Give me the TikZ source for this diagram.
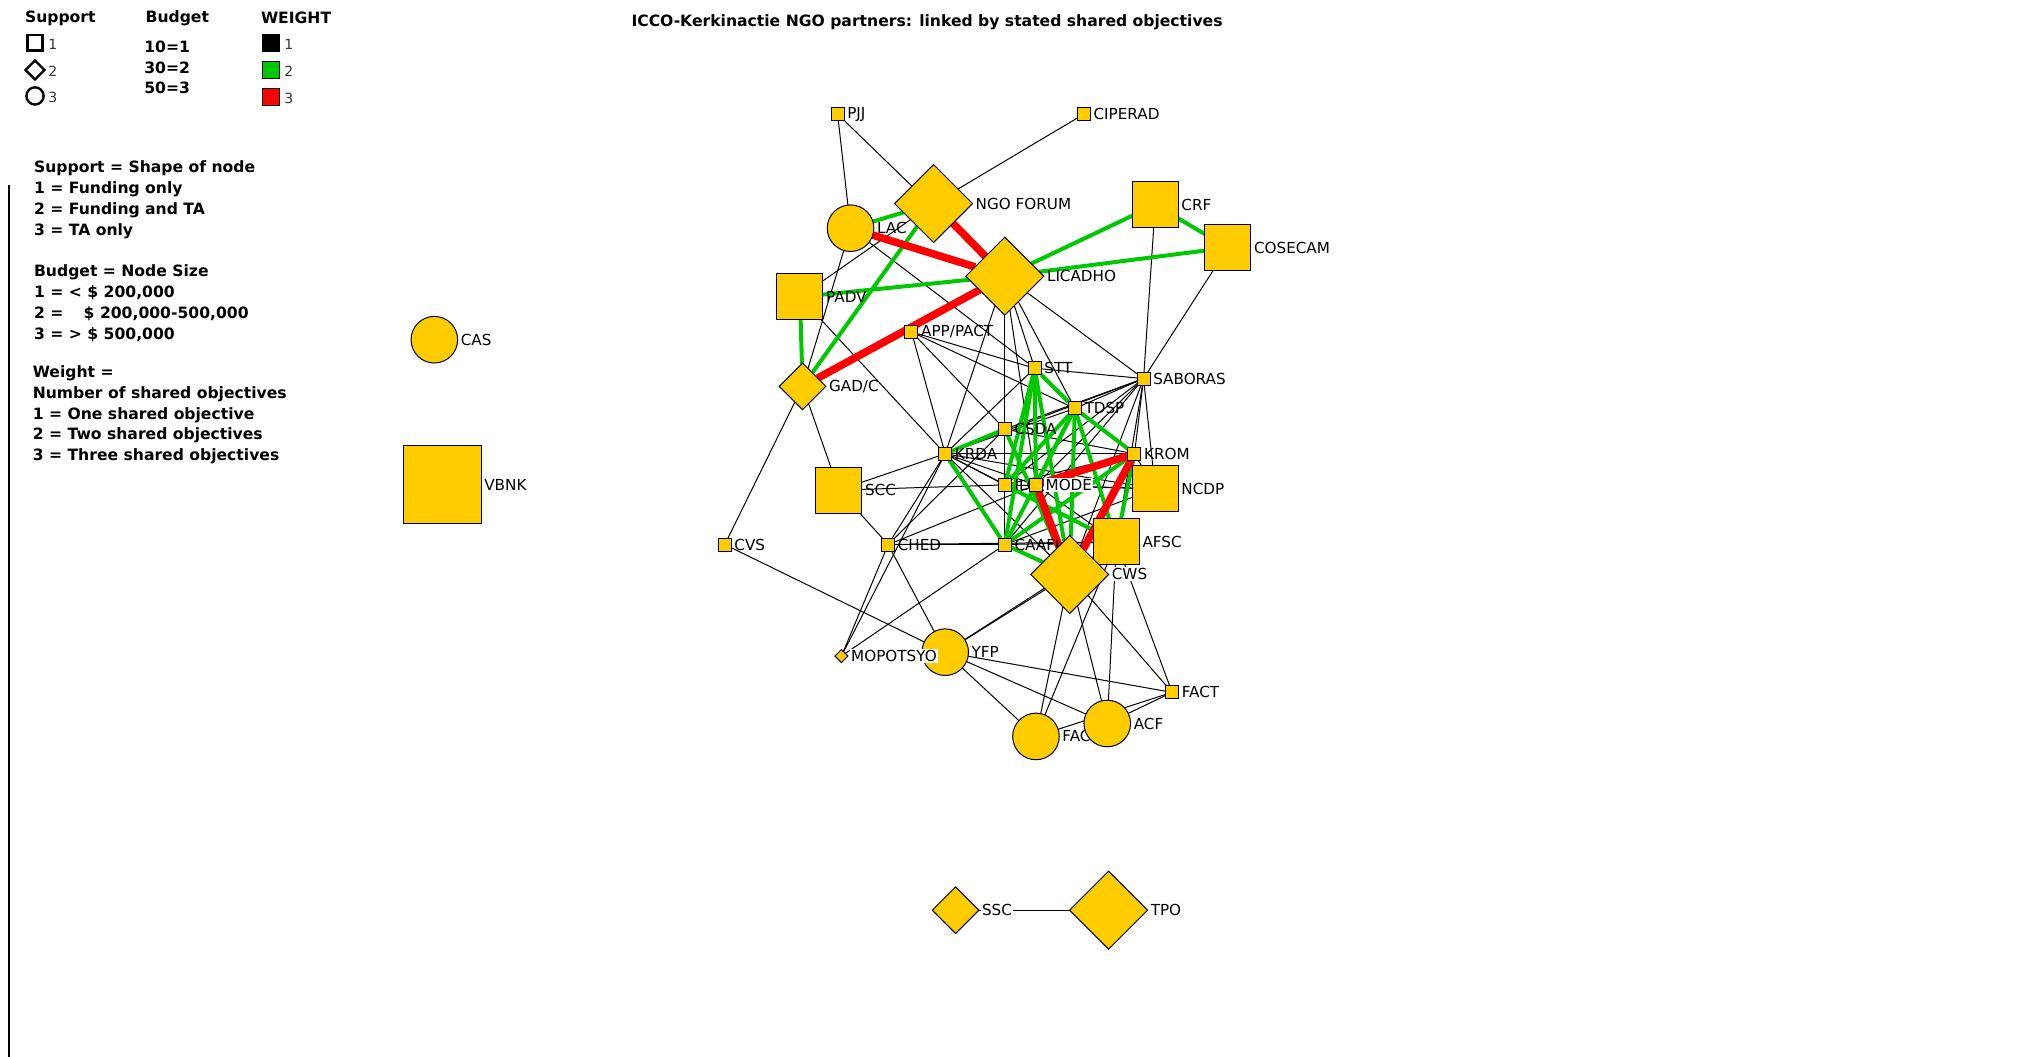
\documentclass[tikz,border=0pt]{standalone}
\usepackage{fontspec}
\setmainfont{DejaVu Sans}
\usetikzlibrary{shapes.geometric}
\pgfdeclarelayer{bg}
\pgfsetlayers{bg,main}
\definecolor{gold}{RGB}{255,204,0}
\definecolor{egreen}{RGB}{0,200,0}
\definecolor{ered}{RGB}{255,0,0}
\begin{document}
\begin{tikzpicture}[x=0.6483pt,y=-0.6483pt,
  nd/.style={draw=black,line width=0.5pt,fill=gold,inner sep=0pt,outer sep=0pt},
  sqs/.style={nd,rectangle,minimum size=6.5pt},
  sqm/.style={nd,rectangle,minimum size=23pt},
  sql/.style={nd,rectangle,minimum size=39pt},
  cir/.style={nd,circle,minimum size=23.3pt},
  dml/.style={nd,diamond,minimum size=39pt},
  dmm/.style={nd,diamond,minimum size=23.3pt},
  dms/.style={nd,diamond,minimum size=6.5pt},
  lab/.style={font=\fontsize{7.6}{9}\selectfont,inner sep=0.6pt,anchor=west,xshift=0.8pt},
  wlab/.style={lab,fill=white},
  e1/.style={draw=black,line width=0.5pt},
  e2/.style={draw=egreen,line width=2pt},
  e3/.style={draw=ered,line width=3.8pt},
  leg/.style={font=\bfseries\fontsize{7.8}{9}\selectfont,anchor=west,inner sep=0pt},
  legn/.style={font=\fontsize{7}{9}\selectfont,anchor=west,inner sep=0pt,text=black!80},
  lsym/.style={draw=black,line width=1.2pt,inner sep=0pt},
  wsym/.style={draw=black,line width=0.6pt,inner sep=0pt,rectangle,minimum size=8.4pt},
]
\useasboundingbox (0,0) rectangle (1568,815);

% ---------- legend ----------
\node[leg] (tSupport) at (19,14) {Support};
\node[leg] (tBudget) at (112,14) {Budget};
\node[leg] (tWeight) at (201,14) {WEIGHT};
\node[lsym,rectangle,minimum size=7.6pt] (ls1) at (27,33) {};
\node[lsym,diamond,minimum size=10pt] (ls2) at (27,54) {};
\node[lsym,circle,minimum size=8.6pt] (ls3) at (27,74) {};
\node[legn] (ln1) at (37,34) {1};
\node[legn] (ln2) at (37,55) {2};
\node[legn] (ln3) at (37,75) {3};
\node[leg] (b1) at (111,36) {10=1};
\node[leg] (b2) at (111,52) {30=2};
\node[leg] (b3) at (111,68) {50=3};
\node[wsym,fill=black] (w1) at (209,33) {};
\node[wsym,fill=egreen] (w2) at (209,54) {};
\node[wsym,fill=ered] (w3) at (209,75) {};
\node[legn] (wn1) at (219,34) {1};
\node[legn] (wn2) at (219,55) {2};
\node[legn] (wn3) at (219,76) {3};

\node[leg] (k1) at (26,130) {Support = Shape of node};
\node[leg] (k2) at (26,146) {1 = Funding only};
\node[leg] (k3) at (26,162) {2 = Funding and TA};
\node[leg] (k4) at (26,178) {3 = TA only};
\node[leg] (k5) at (26,210) {Budget = Node Size};
\node[leg] (k6) at (26,226) {1 = < \$ 200,000};
\node[leg] (k7) at (26,242) {2 =\hspace{1.3em}\$ 200,000-500,000};
\node[leg] (k8) at (26,258) {3 = > \$ 500,000};
\node[leg] (k9) at (25,288) {Weight =};
\node[leg] (k10) at (25,304) {Number of shared objectives};
\node[leg] (k11) at (25,320) {1 = One shared objective};
\node[leg] (k12) at (25,336) {2 = Two shared objectives};
\node[leg] (k13) at (25,352) {3 = Three shared objectives};

\coordinate (vt) at (7,143);
\coordinate (vb) at (7,815);
\draw[line width=0.6pt] (vt) -- (vb);

\node[font=\bfseries\fontsize{7.8}{9}\selectfont,inner sep=0pt] (title) at (715,17)
  {ICCO-Kerkinactie NGO partners: linked by stated shared objectives};

% ---------- nodes ----------
\node[sqs] (PJJ) at (646,88) {};       \node[lab] (lPJJ) at (PJJ.east) {PJJ};
\node[sqs] (CIPERAD) at (836,88) {};   \node[lab] (lCIPERAD) at (CIPERAD.east) {CIPERAD};
\node[cir] (LAC) at (656,176) {};      \node[lab] (lLAC) at (LAC.east) {LAC};
\node[dml] (NGOFORUM) at (720,157) {}; \node[lab] (lNGOFORUM) at (NGOFORUM.east) {NGO FORUM};
\node[sqm] (CRF) at (891,158) {};      \node[lab] (lCRF) at (CRF.east) {CRF};
\node[sqm] (COSECAM) at (947,191) {};  \node[lab] (lCOSECAM) at (COSECAM.east) {COSECAM};
\node[sqm] (PADV) at (617,229) {};     \node[lab] (lPADV) at (PADV.east) {PADV};
\node[dml] (LICADHO) at (775,213) {};  \node[lab] (lLICADHO) at (LICADHO.east) {LICADHO};
\node[cir] (CAS) at (335,262) {};      \node[lab] (lCAS) at (CAS.east) {CAS};
\node[sqs] (APPPACT) at (703,256) {};  \node[lab] (lAPPPACT) at (APPPACT.east) {APP/PACT};
\node[sqs] (STT) at (798,284) {};      \node[lab] (lSTT) at (STT.east) {STT};
\node[sqs] (SABORAS) at (882,292) {};  \node[lab] (lSABORAS) at (SABORAS.east) {SABORAS};
\node[dmm] (GADC) at (619,298) {};     \node[lab] (lGADC) at (GADC.east) {GAD/C};
\node[sqs] (TDSP) at (829,315) {};     \node[lab] (lTDSP) at (TDSP.east) {TDSP};
\node[sqs] (CSDA) at (775,331) {};     \node[lab] (lCSDA) at (CSDA.east) {CSDA};
\node[sqs] (KRDA) at (729,350) {};     \node[lab] (lKRDA) at (KRDA.east) {KRDA};
\node[sqs] (KROM) at (875,350) {};     \node[lab] (lKROM) at (KROM.east) {KROM};
\node[sql] (VBNK) at (341,374) {};     \node[lab] (lVBNK) at (VBNK.east) {VBNK};
\node[sqm] (SCC) at (647,378) {};      \node[lab] (lSCC) at (SCC.east) {SCC};
\node[sqs] (ILO) at (775,374) {};      \node[lab] (lILO) at (ILO.east) {ILO};
\node[sqs] (MODE) at (799,374) {};     \node[wlab] (lMODE) at (MODE.east) {MODE};
\node[sqm] (NCDP) at (891,377) {};     \node[lab] (lNCDP) at (NCDP.east) {NCDP};
\node[sqs] (CVS) at (559,420) {};      \node[lab] (lCVS) at (CVS.east) {CVS};
\node[sqs] (CHED) at (685,420) {};     \node[lab] (lCHED) at (CHED.east) {CHED};
\node[sqs] (CAAF) at (775,420) {};     \node[lab] (lCAAF) at (CAAF.east) {CAAFI};
\node[sqm] (AFSC) at (861,418) {};     \node[lab] (lAFSC) at (AFSC.east) {AFSC};
\node[dml] (CWS) at (825,443) {};      \node[wlab] (lCWS) at (CWS.east) {CWS};
\node[cir] (YFP) at (729,503) {};      \node[lab] (lYFP) at (YFP.east) {YFP};
\node[dms] (MOPOTSYO) at (649,506) {}; \node[wlab] (lMOPOTSYO) at (MOPOTSYO.east) {MOPOTSYO};
\node[sqs] (FACT) at (904,534) {};     \node[lab] (lFACT) at (FACT.east) {FACT};
\node[cir] (FAC) at (799,568) {};      \node[lab] (lFAC) at (FAC.east) {FAC};
\node[cir] (ACF) at (854,558) {};      \node[lab] (lACF) at (ACF.east) {ACF};
\node[dmm] (SSC) at (737,702) {};      \node[wlab] (lSSC) at (SSC.east) {SSC};
\node[dml] (TPO) at (855,702) {};      \node[lab] (lTPO) at (TPO.east) {TPO};

% ---------- edges ----------
\begin{pgfonlayer}{bg}
\foreach \a/\b in {PJJ/LAC, PJJ/LICADHO, CIPERAD/NGOFORUM, NGOFORUM/PADV, LAC/GADC, LAC/STT,
  PADV/KRDA, CRF/SABORAS, COSECAM/SABORAS, LICADHO/SABORAS, LICADHO/STT, LICADHO/TDSP,
  LICADHO/MODE, LICADHO/CAAF, LICADHO/KRDA, LICADHO/CSDA, APPPACT/KRDA, APPPACT/CSDA,
  APPPACT/STT, APPPACT/TDSP, GADC/CVS, GADC/SCC, SCC/KRDA, SCC/ILO, SCC/CHED, CHED/CAAF,
  CHED/KRDA, CHED/CSDA, CHED/MOPOTSYO, CHED/YFP, CHED/MODE, KRDA/MOPOTSYO, CVS/YFP,
  MOPOTSYO/CAAF, KRDA/STT, KRDA/TDSP, KRDA/KROM, KRDA/NCDP, KRDA/ILO, KRDA/MODE, KRDA/AFSC,
  KRDA/CWS, KRDA/SABORAS, STT/SABORAS, SABORAS/CSDA, SABORAS/ILO, SABORAS/MODE, SABORAS/CAAF,
  SABORAS/KROM, SABORAS/NCDP, SABORAS/AFSC, SABORAS/CWS, SABORAS/TDSP, KROM/ILO, KROM/CSDA,
  KROM/NCDP, KROM/CAAF, NCDP/ILO, NCDP/MODE, NCDP/CAAF, ILO/CAAF, CSDA/ILO, MODE/AFSC,
  CAAF/AFSC, CHED/AFSC, YFP/CWS, YFP/AFSC, YFP/FACT, YFP/ACF, YFP/FAC, CWS/FAC, AFSC/FAC,
  CWS/ACF, AFSC/ACF, CWS/FACT, AFSC/FACT, ACF/FACT, FAC/FACT, SSC/TPO}
  \draw[e1] (\a) -- (\b);
\foreach \a/\b in {LAC/NGOFORUM, NGOFORUM/GADC, PADV/LICADHO, PADV/GADC, LICADHO/CRF,
  LICADHO/COSECAM, CRF/COSECAM, STT/TDSP, STT/CAAF, STT/MODE, STT/CWS, STT/ILO, TDSP/KROM,
  TDSP/CAAF, TDSP/ILO, TDSP/AFSC, TDSP/CWS, TDSP/MODE, CSDA/KRDA, CSDA/CWS, KRDA/CAAF,
  CAAF/CWS, CAAF/KROM, ILO/AFSC, KROM/AFSC}
  \draw[e2] (\a) -- (\b);
\foreach \a/\b in {NGOFORUM/LICADHO, LAC/LICADHO, GADC/LICADHO, MODE/KROM, KROM/CWS, MODE/CWS}
  \draw[e3] (\a) -- (\b);
\end{pgfonlayer}
\end{tikzpicture}
\end{document}
